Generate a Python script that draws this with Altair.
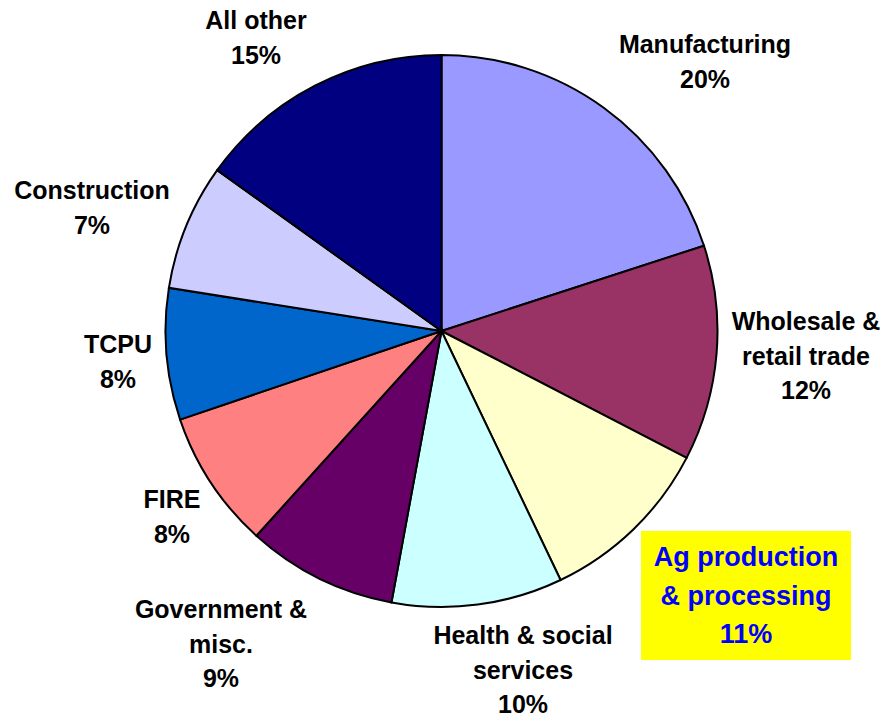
import altair as alt
import pandas as pd

# ---- data ----
categories = ["Manufacturing", "Wholesale & retail trade", "Ag production & processing",
              "Health & social services", "Government & misc.", "FIRE", "TCPU",
              "Construction", "All other"]
shares = [20.0, 12.6, 10.3, 10.0, 8.8, 8.1, 7.7, 7.4, 15.1]
pct_labels = ["20%", "12%", "11%", "10%", "9%", "8%", "8%", "7%", "15%"]
label_text = ["Manufacturing", "Wholesale &\nretail trade", "Ag production\n& processing",
              "Health & social\nservices", "Government &\nmisc.", "FIRE", "TCPU",
              "Construction", "All other"]
colors = ["#9999FF", "#993366", "#FFFFCC", "#CCFFFF", "#660066", "#FF8080",
          "#0066CC", "#CCCCFF", "#000080"]

# ---- layout (label anchor = centre of first text line, in pixels) ----
LABEL_POS = {
    "Manufacturing": (697, 37),
    "Wholesale & retail trade": (798, 314),
    "Ag production & processing": (738, 550),
    "Health & social services": (515, 628),
    "Government & misc.": (213, 602),
    "FIRE": (164, 492),
    "TCPU": (110, 337),
    "Construction": (84, 183),
    "All other": (248, 13),
}

W, H = 867, 646

df = pd.DataFrame({
    "category": categories,
    "share": shares,
    "order": list(range(len(categories))),
    "label": [t + "\n" + p for t, p in zip(label_text, pct_labels)],
    "lx": [LABEL_POS[c][0] for c in categories],
    "ly": [LABEL_POS[c][1] for c in categories],
})

pie = alt.Chart(df).mark_arc(radius=276, stroke="black", strokeWidth=2).encode(
    theta=alt.Theta("share:Q", stack=True),
    order=alt.Order("order:Q", sort="ascending"),
    color=alt.Color("category:N", scale=alt.Scale(domain=categories, range=colors), legend=None),
)

normal = df[df["category"] != "Ag production & processing"]
ag = df[df["category"] == "Ag production & processing"]

labels = alt.Chart(normal).mark_text(
    font="Liberation Sans", fontWeight="bold", fontSize=25, lineHeight=34.5,
    lineBreak="\n", align="center", baseline="middle", color="black",
).encode(
    x=alt.X("lx:Q", scale=None),
    y=alt.Y("ly:Q", scale=None),
    text="label:N",
)

box = alt.Chart(ag).mark_rect(color="#FFFF00").encode(
    x=alt.value(633), x2=alt.value(843), y=alt.value(523), y2=alt.value(652),
)

ag_label = alt.Chart(ag).mark_text(
    font="Liberation Sans", fontWeight="bold", fontSize=27, lineHeight=38.5,
    lineBreak="\n", align="center", baseline="middle", color="#0000FF",
).encode(
    x=alt.X("lx:Q", scale=None),
    y=alt.Y("ly:Q", scale=None),
    text="label:N",
)

chart = alt.layer(pie, labels, box, ag_label).properties(
    width=W, height=H, padding=0
).configure_view(stroke=None)

chart.save("out.html", embed_options={"renderer": "svg", "actions": False})
